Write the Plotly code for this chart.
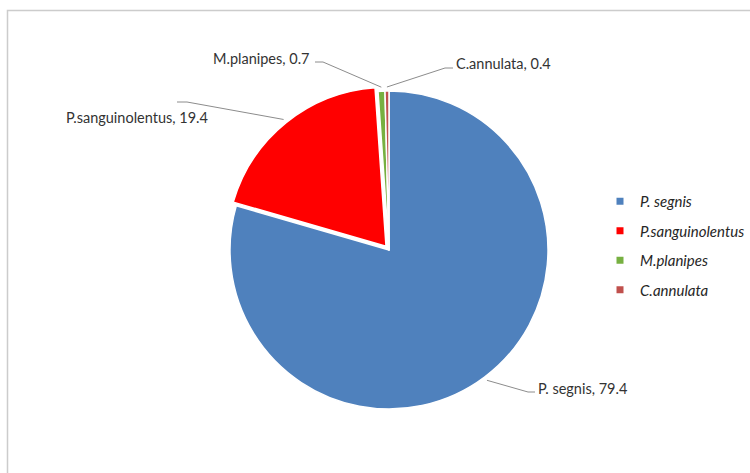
import math
import plotly.graph_objects as go

# ---- data ----
categories = ["P. segnis", "P.sanguinolentus", "M.planipes", "C.annulata"]
values = [79.4, 19.4, 0.7, 0.4]
colors = ["#4F81BD", "#FF0000", "#77B041", "#C0504D"]
pulls = [0, 0.03, 0, 0]

# ---- layout constants (pixels) ----
W, H = 750, 473
CX, CY, R = 389, 250, 159

# label placement: elbow of leader line, leader end, text anchor
label_layout = [
    dict(elbow=(528, 392), end=(535, 392), text=(536, 388), xanchor="left"),
    dict(elbow=(187, 102), end=(177, 102), text=(64, 118), xanchor="left"),
    dict(elbow=(323, 62), end=(315, 62), text=(312, 58), xanchor="right"),
    dict(elbow=(445, 68), end=(453, 68), text=(454, 64), xanchor="left"),
]


def px(x):
    return x / W


def py(y):
    return 1 - y / H


maxpull = max(pulls)
half = R * (1 + maxpull)
domain = dict(x=[px(CX - half), px(CX + half)], y=[py(CY + half), py(CY - half)])

fig = go.Figure()
fig.add_trace(go.Pie(
    labels=categories, values=values, sort=False, direction="clockwise",
    rotation=0, pull=pulls,
    marker=dict(colors=colors, line=dict(color="white", width=1.5)),
    textinfo="none", hoverinfo="label+value", showlegend=False,
    domain=domain,
))

# legend entries
for cat, col in zip(categories, colors):
    fig.add_trace(go.Scatter(
        x=[None], y=[None], mode="markers",
        marker=dict(symbol="square", size=7, color=col),
        name=f"<i>{cat}</i>", legendgroup=cat, showlegend=True,
    ))

# outside labels with leader lines (anchor computed from the slice angles)
total = sum(values)
cum = 0.0
shapes = []
annotations = []
for cat, val, pl, lay in zip(categories, values, pulls, label_layout):
    mid = (cum + val / 2) / total * 2 * math.pi
    cum += val
    dx, dy = math.sin(mid), -math.cos(mid)
    rr = R * (1 + pl) + 4
    ax_, ay_ = CX + rr * dx, CY + rr * dy
    ex, ey = lay["elbow"]
    nx, ny = lay["end"]
    shapes.append(dict(
        type="path", xref="paper", yref="paper",
        path=f"M {px(ax_)} {py(ay_)} L {px(ex)} {py(ey)} L {px(nx)} {py(ny)}",
        line=dict(color="#8C8C8C", width=1),
    ))
    tx, ty = lay["text"]
    annotations.append(dict(
        x=px(tx), y=py(ty), xref="paper", yref="paper",
        text=f"{cat}, {val}", showarrow=False,
        xanchor=lay["xanchor"], yanchor="middle",
        font=dict(family="Lato", size=14.5, color="#333333"),
    ))

# chart border
shapes.append(dict(
    type="rect", xref="paper", yref="paper",
    x0=px(7.5), y0=py(10.5), x1=1.02, y1=-0.02,
    line=dict(color="#CCCCCC", width=1.5), layer="below",
))

fig.update_layout(
    width=W, height=H,
    margin=dict(l=0, r=0, t=0, b=0),
    paper_bgcolor="white", plot_bgcolor="white",
    xaxis=dict(visible=False), yaxis=dict(visible=False),
    shapes=shapes, annotations=annotations,
    legend=dict(
        x=px(600), y=py(185), xanchor="left", yanchor="top",
        tracegroupgap=7, bgcolor="rgba(0,0,0,0)",
        font=dict(family="Lato", size=15, color="#262626"),
    ),
)

fig.write_html("out.html")
